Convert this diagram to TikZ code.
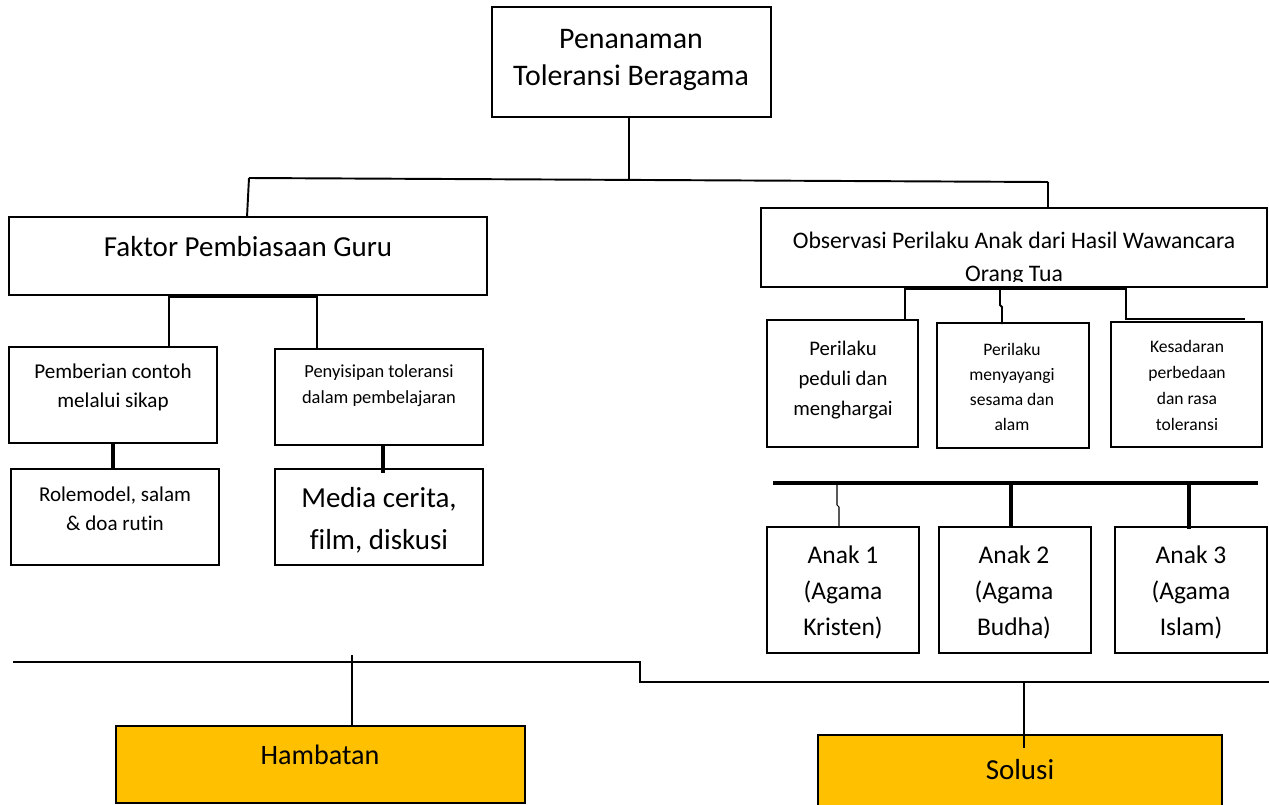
\documentclass[tikz,border=0pt]{standalone}
\usepackage{fontspec}
\setmainfont{Carlito}[Ligatures=NoCommon]
\usepackage{tikz}
\usetikzlibrary{calc,fit}
\def\uk#1#2{\fontsize{#1}{#2}\selectfont}
\definecolor{kuning}{HTML}{FFC000}
\tikzset{
	kotak/.style={draw=black, line width=1pt, inner sep=0pt},
	teks/.style={align=center, inner sep=0pt},
	tipis/.style={line width=0.6pt},
	sedang/.style={line width=1.1pt},
	tebal/.style={line width=1.9pt}
}

\begin{document}
\begin{tikzpicture}[x=0.02cm, y=-0.02cm]
			%%%%% START %%%%%
			\useasboundingbox (0,0) rectangle (1269,805);
			
			% kotak atas
			\node[kotak, fit={(492,7) (771,117)}] (atas) {};
			\node[teks, font=\uk{17}{21.5}] (atasT) at (631,60) {Penanaman\\Toleransi Beragama};
			
			\node[kotak, fit={(9,217) (487,295)}] (faktor) {};
			\node[teks, font=\uk{16.5}{20}] (faktorT) at (248,247) {Faktor Pembiasaan Guru};
			
			\node[kotak, fit={(761,208) (1267,287)}] (observasi) {};
			\begin{scope}
				\clip (761,208) rectangle (1267,281);
				\node[teks, font=\uk{13.5}{18.8}] (observasiT) at (1014,259) {Observasi Perilaku Anak dari Hasil Wawancara\\Orang Tua};
			\end{scope}
			
			% cabang kiri
			\node[kotak, fit={(9,347) (217,443)}] (contoh) {};
			\node[teks, font=\uk{12}{16.5}] (contohT) at (113,387) {Pemberian contoh\\melalui sikap};
			
			\node[kotak, fit={(275,349) (483,445)}] (sisip) {};
			\node[teks, font=\uk{10.5}{14.8}] (sisipT) at (379,386) {Penyisipan toleransi\\dalam pembelajaran};
			
			\node[kotak, fit={(11,469) (219,565)}] (rolemodel) {};
			\node[teks, font=\uk{12}{16.5}] (rolemodelT) at (115,509) {Rolemodel, salam\\\& doa rutin};
			
			\node[kotak, fit={(275,469) (483,565)}] (media) {};
			\node[teks, font=\uk{16.5}{24}] (mediaT) at (379,520) {Media cerita,\\film, diskusi};
			
			% cabang kanan
			\node[kotak, fit={(767,320) (918,447)}] (peduli) {};
			\node[teks, font=\uk{11.8}{17}] (peduliT) at (843,380) {Perilaku\\peduli dan\\menghargai};
			
			\node[kotak, fit={(937,323) (1089,448)}] (sayang) {};
			\node[teks, font=\uk{10}{14.2}] (sayangT) at (1012,387) {Perilaku\\menyayangi\\sesama dan\\alam};
			
			\node[kotak, fit={(1111,322) (1262,447)}] (sadar) {};
			\node[teks, font=\uk{10}{14.8}] (sadarT) at (1187,385) {Kesadaran\\perbedaan\\dan rasa\\toleransi};
			
			\node[kotak, fit={(767,527) (919,653)}] (anakA) {};
			\node[teks, font=\uk{14.5}{20.5}] (anakAT) at (843,592) {Anak 1\\(Agama\\Kristen)};
			
			\node[kotak, fit={(939,527) (1091,653)}] (anakB) {};
			\node[teks, font=\uk{14.5}{20.5}] (anakBT) at (1014,592) {Anak 2\\(Agama\\Budha)};
			
			\node[kotak, fit={(1115,527) (1267,653)}] (anakC) {};
			\node[teks, font=\uk{14.5}{20.5}] (anakCT) at (1191,592) {Anak 3\\(Agama\\Islam)};
			
			% bawah
			\node[kotak, fill=kuning, fit={(116,726) (525,803)}] (hambatan) {};
			\node[teks, font=\uk{16}{20}] (hambatanT) at (320,755) {Hambatan};
			
			\node[kotak, fill=kuning, fit={(818,735) (1222,812)}] (solusi) {};
			\node[teks, font=\uk{16.5}{20}] (solusiT) at (1020,770) {Solusi};
			
			% garis
			\coordinate (busA) at (249,178);
			\coordinate (busM) at (629,180);
			\coordinate (busB) at (1048,182);
			\draw[tipis] (atas.south -| busM) -- (busM);
			\draw[sedang] (busA) -- (busB);
			\draw[sedang] (busA) -- (247,217);
			\draw[sedang] (busB) -- (busB |- observasi.north);
			
			\coordinate (fk1) at (169,297);
			\coordinate (fk2) at (317,297);
			\draw[sedang] (fk1 |- contoh.north) -- (fk1) -- (fk2) -- (fk2 |- sisip.north);
			\draw[tebal] (contoh.south) -- (contoh.south |- rolemodel.north);
			\coordinate (md) at (383,445);
			\draw[tebal] (md) -- (383,473);
			
			\coordinate (ob1) at (905,289);
			\coordinate (ob2) at (1000,289);
			\coordinate (ob3) at (1126,289);
			\coordinate (ob4) at (1245,319);
			\draw[sedang] (ob1 |- peduli.north) -- (ob1) -- (ob3) -- (ob3 |- ob4) -- (ob4);
			\draw[sedang] (ob2) -- (1000,305) -- (1002,307) -- (1002,324);
			
			\coordinate (an0) at (773,483);
			\coordinate (an9) at (1258,483);
			\draw[tebal] (an0) -- (an9);
			\draw[tipis] (837,483) -- (837,505) -- (839,507) -- (839 ,527);
			\draw[tebal] (1011,483) -- (1011,527);
			\draw[tebal] (1189,483) -- (1189,529);
			
			\coordinate (bw0) at (13,662);
			\coordinate (bw1) at (640,662);
			\coordinate (bw2) at (640,682);
			\coordinate (bw3) at (1269,682);
			\draw[sedang] (bw0) -- (bw1) -- (bw2) -- (bw3);
			\coordinate (hb) at (352,655);
			\draw[tipis] (hb) -- (hb |- hambatan.north);
			\coordinate (sl) at (1024,682);
			\draw[tipis] (sl) -- (1024,748);
			
			%%%%% END %%%%%
\end{tikzpicture}
\end{document}
